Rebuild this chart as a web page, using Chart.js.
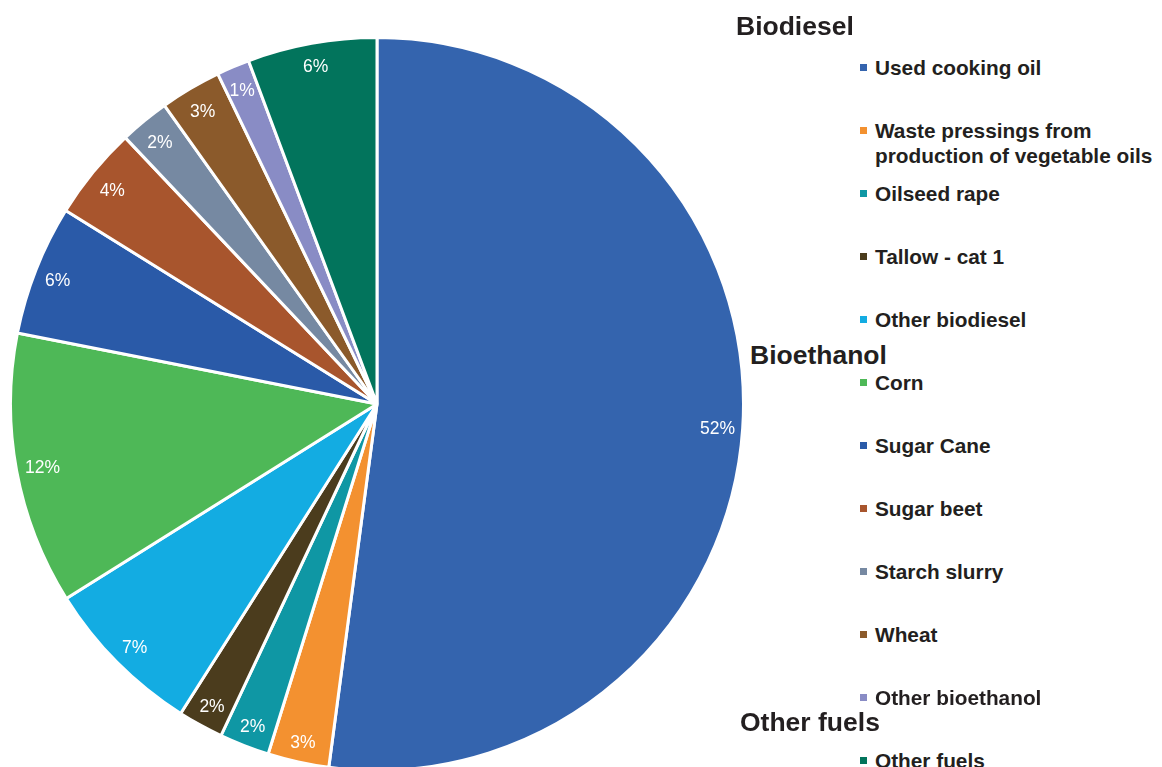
<!DOCTYPE html>
<html>
<head>
<meta charset="utf-8">
<script src="https://cdn.jsdelivr.net/npm/chart.js@4"></script>
<style>
  html, body { margin: 0; padding: 0; background: #fff; width: 1162px; height: 767px; overflow: hidden; }
  body { position: relative; font-family: "Liberation Sans", Arial, sans-serif; color: #231f20; }
  #wrap { position: absolute; left: 9px; top: 36px; width: 736px; height: 736px; }
  .head { position: absolute; font-weight: bold; font-size: 26.5px; line-height: 28px; }
  .item { position: absolute; left: 860px; font-weight: bold; font-size: 20.8px; line-height: 25px; width: 302px; }
  .item i { position: absolute; left: 0; top: 9px; width: 7px; height: 7px; }
  .item span { display: block; margin-left: 15px; }
</style>
</head>
<body>
<div id="wrap"><canvas id="pie"></canvas></div>
<div id="legend"></div>
<script>
// Slices in drawing order (clockwise from 12 o'clock)
const labels = [
    "Used cooking oil",
    "Waste pressings from production of vegetable oils",
    "Oilseed rape",
    "Tallow - cat 1",
    "Other biodiesel",
    "Corn",
    "Sugar Cane",
    "Sugar beet",
    "Starch slurry",
    "Wheat",
    "Other bioethanol",
    "Other fuels"
];
// Share of volume (%)
const shares = [52.1, 2.7, 2.2, 2.0, 7.1, 12.0, 5.75, 4.1, 2.2, 2.7, 1.45, 5.7];
const colors = [
    "#3464ae", "#f39130", "#0f97a4", "#4b3c1d", "#13ace2", "#4eb857",
    "#2a5aa8", "#a8552d", "#7689a2", "#8b5a2b", "#898cc5", "#02745c"
];
// Legend groups: header text and where it sits
const groups = [
    { name: "Biodiesel", x: 736, y: 12 },
    { name: "Bioethanol", x: 750, y: 341 },
    { name: "Other fuels", x: 740, y: 708 }
];
const legendNames = [
    "Used cooking oil",
    "Waste pressings from<br>production of vegetable oils",
    "Oilseed rape",
    "Tallow - cat 1",
    "Other biodiesel",
    "Corn",
    "Sugar Cane",
    "Sugar beet",
    "Starch slurry",
    "Wheat",
    "Other bioethanol",
    "Other fuels"
];

// Build the legend
const legend = document.getElementById('legend');
groups.forEach(g => {
    const h = document.createElement('div');
    h.className = 'head';
    h.style.left = g.x + 'px';
    h.style.top = g.y + 'px';
    h.textContent = g.name;
    legend.appendChild(h);
});
legendNames.forEach((name, i) => {
    const d = document.createElement('div');
    d.className = 'item';
    d.style.top = (55 + i * 63) + 'px';
    d.innerHTML = '<i style="background:' + colors[i] + '"></i><span>' + name + '</span>';
    legend.appendChild(d);
});

// Percent labels, boxed just inside the outer edge of each slice
const pctLabels = {
    id: 'pctLabels',
    afterDatasetsDraw(chart) {
        const ctx = chart.ctx;
        const meta = chart.getDatasetMeta(0);
        const total = shares.reduce((a, b) => a + b, 0);
        ctx.save();
        ctx.fillStyle = '#ffffff';
        ctx.font = '17.5px "Liberation Sans", Arial, sans-serif';
        ctx.textAlign = 'center';
        ctx.textBaseline = 'middle';
        meta.data.forEach((arc, i) => {
            const p = arc.getProps(['x', 'y', 'startAngle', 'endAngle', 'outerRadius']);
            const mid = (p.startAngle + p.endAngle) / 2;
            const txt = Math.round(shares[i] / total * 100) + '%';
            const w = ctx.measureText(txt).width;
            const h = 25;
            // how far the text box reaches along the radial direction
            const reach = Math.abs(Math.cos(mid)) * w / 2 + Math.abs(Math.sin(mid)) * h / 2;
            const r = p.outerRadius - 7 - reach;
            ctx.fillText(txt, p.x + Math.cos(mid) * r, p.y + Math.sin(mid) * r + 3);
        });
        ctx.restore();
    }
};

new Chart(document.getElementById('pie'), {
    type: 'pie',
    data: {
        labels: labels,
        datasets: [{
            data: shares,
            backgroundColor: colors,
            borderColor: '#ffffff',
            borderWidth: 3
        }]
    },
    options: {
        responsive: true,
        maintainAspectRatio: false,
        animation: false,
        layout: { padding: 0 },
        plugins: {
            legend: { display: false },
            tooltip: { enabled: false }
        }
    },
    plugins: [pctLabels]
});
</script>
</body>
</html>
